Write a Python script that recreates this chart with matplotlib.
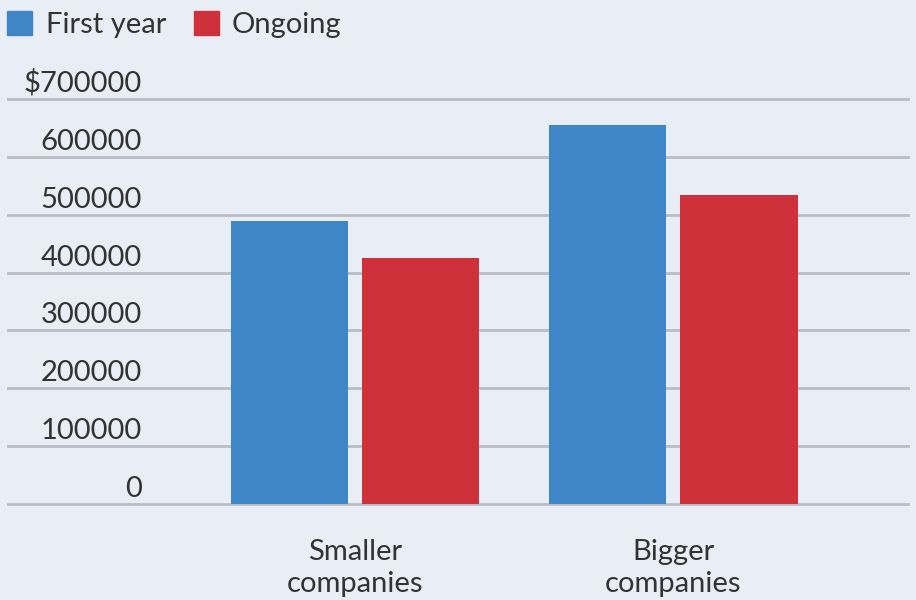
import matplotlib
matplotlib.use("Agg")
from matplotlib import pyplot as plt
from matplotlib import transforms
from matplotlib.patches import Patch
import numpy as np

''' Chart data '''
categories = ["Smaller\ncompanies", "Bigger\ncompanies"]
first_year = [489000, 655000]
ongoing = [425000, 534000]
y_ticks = [0, 100000, 200000, 300000, 400000, 500000, 600000, 700000]
y_labels = ["0", "100000", "200000", "300000", "400000", "500000", "600000", "$700000"]

''' Style '''
BG = "#E9EDF6"
BLUE = "#3F86C6"
RED = "#CF313B"
GRID = "#BBBCC5"
TEXT = "#333333"
FONT = ["Lato", "DejaVu Sans"]
FS = 21

plt.rcParams['font.family'] = FONT

fig = plt.figure(figsize=(9.16, 6.0), dpi=100, facecolor=BG)
ax = fig.add_axes([8 / 916, 96 / 600, 900 / 916, 405 / 600], facecolor=BG)

x = np.arange(len(categories))
bw = 0.368
off = 0.206
ax.bar(x - off, first_year, width=bw, color=BLUE, zorder=2)
ax.bar(x + off, ongoing, width=bw, color=RED, zorder=2)

ax.set_xlim(-1.091, 1.737)
ax.set_ylim(0, 700000)

# grid lines, kept unclipped so the top one is fully drawn
for t in y_ticks:
    ax.axhline(t, color=GRID, lw=2, zorder=1, clip_on=False)

for s in ax.spines.values():
    s.set_visible(False)

# y labels sit above their grid line, right-aligned
ax.set_yticks([])
lbl_tf = transforms.offset_copy(
    transforms.blended_transform_factory(ax.transAxes, ax.transData),
    fig=fig, x=0, y=7, units='dots')
for t, lab in zip(y_ticks, y_labels):
    ax.text(134 / 900, t, lab, transform=lbl_tf, ha='right', va='baseline',
            fontsize=FS, color=TEXT)

ax.set_xticks(x, categories)
ax.tick_params(axis='x', length=0, pad=25, labelsize=FS, labelcolor=TEXT)
for lbl in ax.get_xticklabels():
    lbl.set_linespacing(1.28)

handles = [Patch(color=BLUE, label="First year"), Patch(color=RED, label="Ongoing")]
fig.legend(handles=handles, loc='upper left', bbox_to_anchor=(7 / 916, 1 - 11 / 600),
           frameon=False, fontsize=FS, labelcolor=TEXT, handlelength=0.87,
           handleheight=0.87, handletextpad=0.45, columnspacing=0.95, ncol=2,
           borderpad=0, borderaxespad=0)

fig.savefig("out.png", dpi=100, facecolor=BG)
